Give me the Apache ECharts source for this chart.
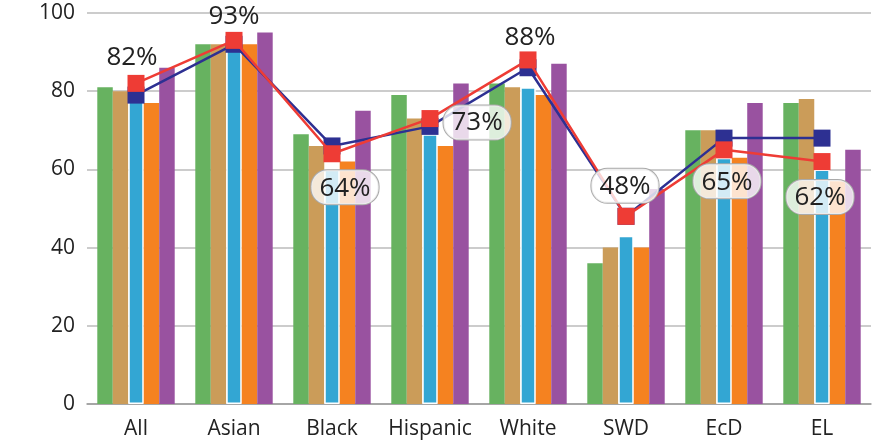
<!DOCTYPE html>
<html>
<head>
<meta charset="utf-8">
<script src="https://cdn.jsdelivr.net/npm/echarts@6/dist/echarts.min.js"></script>
<style>
  html, body { margin: 0; padding: 0; background: #fff; }
  #main { width: 878px; height: 442px; }
</style>
</head>
<body>
<div id="main"></div>
<script>
var categories = ['All', 'Asian', 'Black', 'Hispanic', 'White', 'SWD', 'EcD', 'EL'];
var yTicks = [0, 20, 40, 60, 80, 100];

// bar groups (left to right in each category)
var greenBars  = [81, 92, 69, 79, 82, 36, 70, 77];
var tanBars    = [80, 92, 66, 73, 81, 40, 70, 78];
var blueBars   = [78, 91, 60, 69, 81, 43, 63, 60];
var orangeBars = [77, 92, 62, 66, 79, 40, 63, 57];
var purpleBars = [86, 95, 75, 82, 87, 55, 77, 65];

// line series
var navyLine = [79, 92, 66, 71, 86, 48, 68, 68];
var redLine  = [82, 93, 64, 73, 88, 48, 65, 62];

var myChart = echarts.init(document.getElementById('main'));

var boxLabel = {
    backgroundColor: 'rgba(255,255,255,0.78)',
    borderColor: '#aaa',
    borderWidth: 1,
    borderRadius: 16,
    padding: [5, 8, 3, 8]
};
// label placement per point of the red line
var redLabelPos = [
    { position: 'top', distance: 4, offset: [-4, 0] },
    { position: 'top', distance: 2, offset: [0, 0] },
    { position: 'bottom', distance: 8, offset: [13, 0], box: true },
    { position: 'right', distance: 5, offset: [0, 4], box: true },
    { position: 'top', distance: 1, offset: [2, 0] },
    { position: 'top', distance: 5, offset: [-1, 0], box: true },
    { position: 'bottom', distance: 6, offset: [3, 0], box: true },
    { position: 'bottom', distance: 10, offset: [-2, 0], box: true }
];

var redData = redLine.map(function (v, i) {
    var p = redLabelPos[i];
    var lbl = {
        show: true,
        position: p.position,
        distance: p.distance,
        offset: p.offset,
        formatter: v + '%'
    };
    if (p.box) {
        Object.assign(lbl, boxLabel);
    }
    return { value: v, label: lbl };
});

function barSeries(name, data, color, border) {
    return {
        name: name,
        type: 'bar',
        data: data,
        barGap: 0,
        barCategoryGap: '21%',
        itemStyle: {
            color: color,
            borderColor: border ? '#fff' : color,
            borderWidth: border ? 1.5 : 0
        }
    };
}

var option = {
    backgroundColor: '#fff',
    animation: false,
    grid: { left: 87, right: 7, top: 13, bottom: 38 },
    xAxis: {
        type: 'category',
        data: categories,
        axisLine: { lineStyle: { color: '#999', width: 1.5 } },
        axisTick: { inside: true, length: 9, lineStyle: { color: '#999', width: 1 } },
        axisLabel: { interval: 0, color: '#222', fontSize: 21, fontFamily: 'Open Sans', margin: 15 }
    },
    yAxis: {
        type: 'value',
        min: yTicks[0],
        max: yTicks[yTicks.length - 1],
        interval: 20,
        axisLine: { show: false },
        axisTick: { show: false },
        splitLine: { lineStyle: { color: '#bbb', width: 1.5 } },
        axisLabel: { color: '#222', fontSize: 21, fontFamily: 'Open Sans', margin: 12 }
    },
    series: [
        barSeries('Group 1', greenBars, '#67B260', false),
        barSeries('Group 2', tanBars, '#CB9C59', false),
        barSeries('Group 3', blueBars, '#33A6D3', true),
        barSeries('Group 4', orangeBars, '#F58220', false),
        barSeries('Group 5', purpleBars, '#9952A0', false),
        {
            name: 'Line 1',
            type: 'line',
            data: navyLine,
            symbol: 'rect',
            symbolSize: 17,
            z: 5,
            itemStyle: { color: '#2D3092' },
            lineStyle: { color: '#2D3092', width: 2.5 }
        },
        {
            name: 'Line 2',
            type: 'line',
            data: redData,
            symbol: 'rect',
            symbolSize: 17,
            z: 6,
            itemStyle: { color: '#EE3C35' },
            lineStyle: { color: '#EE3C35', width: 2.5 },
            label: {
                color: '#222',
                fontSize: 26,
                fontFamily: 'Open Sans'
            }
        }
    ]
};
myChart.setOption(option);
</script>
</body>
</html>
